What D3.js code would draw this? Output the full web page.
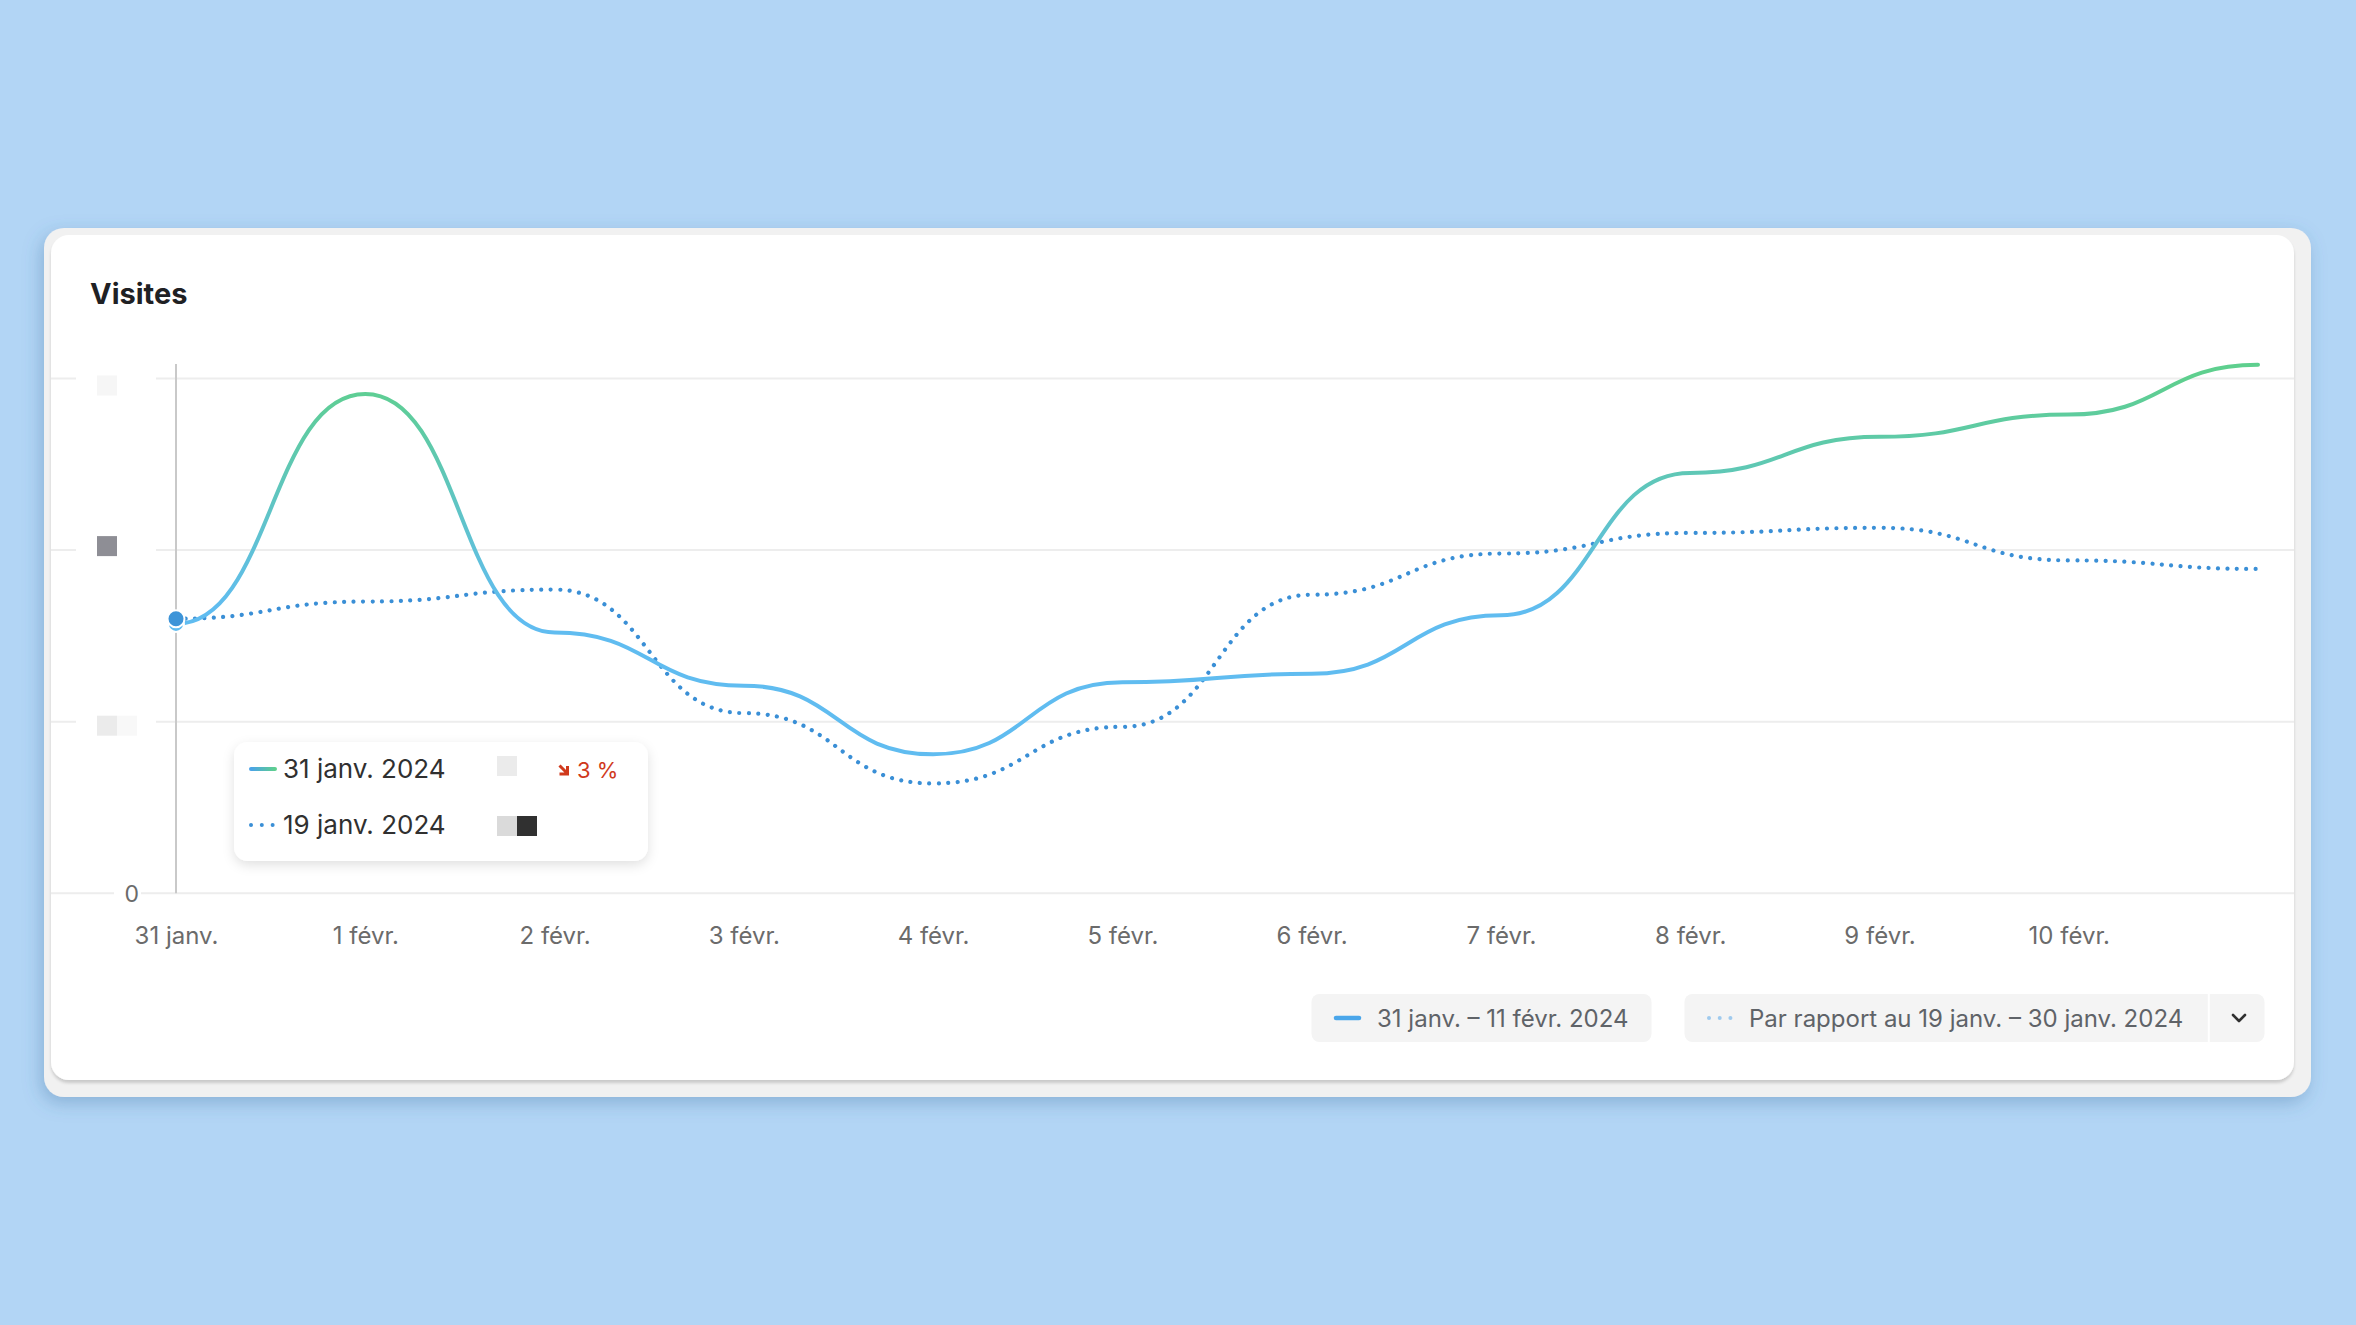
<!doctype html>
<html>
  <head>
    <meta charset="utf-8">
    <title>Visites</title>
    <script src="https://cdnjs.cloudflare.com/ajax/libs/d3/7.8.5/d3.min.js"></script>
    <style>
      html, body { margin: 0; padding: 0; background: #b2d5f5; overflow: hidden; }
      svg { display: block; font-family: Inter, "Noto Sans", sans-serif; }
    </style>
  </head>
  <body>
    <div id="chart"></div>

    <script>
      // data (y-axis labels are masked in the original)
      const days = ["31 janv.", "1 févr.", "2 févr.", "3 févr.", "4 févr.", "5 févr.",
                    "6 févr.", "7 févr.", "8 févr.", "9 févr.", "10 févr.", "11 févr."];
      const currentVisits = [157, 291, 152, 121, 81, 123, 128, 162, 245, 266, 279, 308];
      const previousVisits = [160, 170, 177, 105, 64, 97, 174, 198, 210, 213, 194, 189];
      const yTicks = [0, 100, 200, 300];
      const xTickLabels = days.slice(0, 11);

      const tooltipRows = [
        { label: "31 janv. 2024", change: "3 %" },
        { label: "19 janv. 2024", change: "" }
      ];
      const legendLabels = ["31 janv. – 11 févr. 2024", "Par rapport au 19 janv. – 30 janv. 2024"];

      const W = 2356, H = 1325;
      const blue = "#60bcf0", green = "#5ecf8e", dotBlue = "#3a8fd6";

      const svg = d3.select("#chart").append("svg")
        .attr("width", W).attr("height", H)
        .attr("viewBox", `0 0 ${W} ${H}`);

      const defs = svg.append("defs");

      const sh1 = defs.append("filter").attr("id", "outerShadow")
        .attr("x", "-5%").attr("y", "-5%").attr("width", "110%").attr("height", "115%");
      sh1.append("feDropShadow").attr("dx", -3).attr("dy", 6).attr("stdDeviation", 9)
        .attr("flood-color", "#3d6f9e").attr("flood-opacity", 0.35);

      const sh2 = defs.append("filter").attr("id", "innerShadow")
        .attr("x", "-5%").attr("y", "-5%").attr("width", "110%").attr("height", "115%");
      sh2.append("feDropShadow").attr("dx", 0).attr("dy", 3).attr("stdDeviation", 1.5)
        .attr("flood-color", "#000").attr("flood-opacity", 0.16);

      const sh3 = defs.append("filter").attr("id", "tipShadow")
        .attr("x", "-20%").attr("y", "-30%").attr("width", "140%").attr("height", "170%");
      sh3.append("feDropShadow").attr("dx", 0).attr("dy", 4).attr("stdDeviation", 6)
        .attr("flood-color", "#000").attr("flood-opacity", 0.12);

      // cards
      svg.append("rect")
        .attr("x", 44).attr("y", 228).attr("width", 2267).attr("height", 869)
        .attr("rx", 20).attr("fill", "#f1f1f1")
        .attr("filter", "url(#outerShadow)");
      svg.append("rect")
        .attr("x", 51).attr("y", 235).attr("width", 2243).attr("height", 845)
        .attr("rx", 18).attr("fill", "#fff")
        .attr("filter", "url(#innerShadow)");

      svg.append("text")
        .attr("x", 90).attr("y", 304)
        .attr("font-size", 29).attr("font-weight", 700).attr("fill", "#1f2124")
        .text("Visites");

      // scales
      const x = d3.scalePoint().domain(days).range([176, 2258]);
      const y = d3.scaleLinear().domain([0, 300]).range([893.3, 378.5]);

      // gridlines
      svg.append("g").selectAll("line")
        .data(yTicks)
        .join("line")
        .attr("x1", 51).attr("x2", 2294)
        .attr("y1", d => y(d)).attr("y2", d => y(d))
        .attr("stroke", "#ededed").attr("stroke-width", 2);

      // y labels (masked blocks in the source, except 0)
      const swatches = { 100: ["#ebebeb", "#f8f8f8"], 200: ["#8e8e95", "#ffffff"], 300: ["#f6f6f6", "#ffffff"] };
      const swatchShift = { 100: 4, 200: -4, 300: 7 };
      const yLab = svg.append("g").selectAll("g")
        .data(yTicks)
        .join("g")
        .attr("transform", d => `translate(0,${y(d)})`);
      yLab.filter(d => d !== 0).append("rect")
        .attr("x", 76).attr("y", -12).attr("width", 80).attr("height", 24).attr("fill", "#fff");
      yLab.filter(d => d !== 0).each(function(d) {
        d3.select(this).selectAll("rect.sw")
          .data(swatches[d])
          .join("rect").attr("class", "sw")
          .attr("x", (c, i) => 97 + i * 20).attr("y", -10 + swatchShift[d])
          .attr("width", 20).attr("height", 20).attr("fill", c => c);
      });
      yLab.filter(d => d === 0).append("rect")
        .attr("x", 114).attr("y", -6).attr("width", 27).attr("height", 12).attr("fill", "#fff");
      yLab.filter(d => d === 0).append("text")
        .attr("x", 139).attr("dy", "0.36em").attr("text-anchor", "end")
        .attr("font-size", 23).attr("fill", "#6b6b6b")
        .text(d => d);

      // crosshair
      svg.append("line")
        .attr("x1", x(days[0])).attr("x2", x(days[0]))
        .attr("y1", 364).attr("y2", y(0))
        .attr("stroke", "#c9c9c9").attr("stroke-width", 2);

      // x axis labels
      const xAxis = d3.axisBottom(x).tickValues(xTickLabels).tickSize(0).tickPadding(0);
      const gx = svg.append("g").attr("transform", "translate(0,927)").call(xAxis);
      gx.select(".domain").remove();
      gx.selectAll("text")
        .attr("font-family", "Inter, sans-serif")
        .attr("font-size", 24).attr("fill", "#6b6b6b");

      // gradient for current line
      const grad = defs.append("linearGradient").attr("id", "lineGrad")
        .attr("gradientUnits", "userSpaceOnUse")
        .attr("x1", 0).attr("x2", 0)
        .attr("y1", y(165)).attr("y2", y(300));
      grad.append("stop").attr("offset", "0%").attr("stop-color", blue);
      grad.append("stop").attr("offset", "100%").attr("stop-color", green);

      const hgrad = defs.append("linearGradient").attr("id", "swatchGrad")
        .attr("x1", 0).attr("x2", 1).attr("y1", 0).attr("y2", 0);
      hgrad.append("stop").attr("offset", "0%").attr("stop-color", "#4aa3e8");
      hgrad.append("stop").attr("offset", "100%").attr("stop-color", green);

      const line = d3.line()
        .x((d, i) => x(days[i]))
        .y(d => y(d))
        .curve(d3.curveBumpX);

      svg.append("path")
        .datum(previousVisits)
        .attr("d", line)
        .attr("fill", "none")
        .attr("stroke", dotBlue).attr("stroke-width", 4.2)
        .attr("stroke-linecap", "round")
        .attr("stroke-dasharray", "0.01 9.4");

      svg.append("path")
        .datum(currentVisits)
        .attr("d", line)
        .attr("fill", "none")
        .attr("stroke", "url(#lineGrad)").attr("stroke-width", 4)
        .attr("stroke-linecap", "round");

      // hovered points
      svg.append("circle")
        .attr("cx", x(days[0])).attr("cy", y(currentVisits[0]))
        .attr("r", 8).attr("fill", blue).attr("stroke", "#fff").attr("stroke-width", 2);
      svg.append("circle")
        .attr("cx", x(days[0])).attr("cy", y(previousVisits[0]))
        .attr("r", 8.5).attr("fill", "#3d94d8").attr("stroke", "#fff").attr("stroke-width", 2);

      // tooltip
      const tip = svg.append("g");
      tip.append("rect")
        .attr("x", 234).attr("y", 742).attr("width", 414).attr("height", 119)
        .attr("rx", 14).attr("fill", "#fff").attr("filter", "url(#tipShadow)");

      const rows = tip.selectAll("g.row")
        .data(tooltipRows)
        .join("g").attr("class", "row")
        .attr("transform", (d, i) => `translate(0,${769 + i * 56})`);

      rows.filter((d, i) => i === 0).append("line")
        .attr("x1", 251).attr("x2", 275).attr("y1", 0).attr("y2", 0.01)
        .attr("stroke", "url(#swatchGrad)").attr("stroke-width", 4).attr("stroke-linecap", "round");
      rows.filter((d, i) => i === 1).append("line")
        .attr("x1", 251).attr("x2", 274).attr("y1", 0).attr("y2", 0)
        .attr("stroke", dotBlue).attr("stroke-width", 4).attr("stroke-linecap", "round")
        .attr("stroke-dasharray", "0.01 10.8");

      rows.append("text")
        .attr("x", 283).attr("y", 9)
        .attr("font-size", 26).attr("fill", "#303030")
        .text(d => d.label);

      rows.filter((d, i) => i === 0).append("rect")
        .attr("x", 497).attr("y", -13).attr("width", 20).attr("height", 20).attr("fill", "#ebebeb");
      rows.filter((d, i) => i === 1).append("rect")
        .attr("x", 497).attr("y", -9).attr("width", 20).attr("height", 20).attr("fill", "#dadada");
      rows.filter((d, i) => i === 1).append("rect")
        .attr("x", 517).attr("y", -9).attr("width", 20).attr("height", 20).attr("fill", "#303030");

      const red = "#d0391c";
      rows.filter(d => d.change).append("path")
        .attr("d", "M559.5,-3.5 L567,4 M567.5,-3 L567.5,5 L559.5,5")
        .attr("fill", "none").attr("stroke", red).attr("stroke-width", 3);
      rows.filter(d => d.change).append("text")
        .attr("x", 577).attr("y", 9)
        .attr("font-size", 22).attr("fill", red)
        .text(d => d.change);

      // bottom legend buttons
      const leg = svg.append("g").attr("font-size", 24).attr("fill", "#5f6368");
      leg.append("rect").attr("x", 1311.5).attr("y", 994).attr("width", 340).attr("height", 48)
        .attr("rx", 8).attr("fill", "#f4f4f4");
      leg.append("line").attr("x1", 1336).attr("x2", 1359).attr("y1", 1018).attr("y2", 1018)
        .attr("stroke", "#4aa6ea").attr("stroke-width", 4.5).attr("stroke-linecap", "round");
      leg.append("text").attr("x", 1377).attr("y", 1026.5).text(legendLabels[0]);

      leg.append("rect").attr("x", 1684.5).attr("y", 994).attr("width", 580).attr("height", 48)
        .attr("rx", 8).attr("fill", "#f4f4f4");
      leg.append("line").attr("x1", 2208.8).attr("x2", 2208.8).attr("y1", 994).attr("y2", 1042)
        .attr("stroke", "#fff").attr("stroke-width", 2);
      leg.append("line").attr("x1", 1709).attr("x2", 1731).attr("y1", 1018).attr("y2", 1018)
        .attr("stroke", "#9fcaee").attr("stroke-width", 4).attr("stroke-linecap", "round")
        .attr("stroke-dasharray", "0.01 10.7");
      leg.append("text").attr("x", 1749).attr("y", 1026.5).text(legendLabels[1]);
      leg.append("path").attr("d", "M2233,1015 L2239,1021 L2245,1015")
        .attr("fill", "none").attr("stroke", "#303030").attr("stroke-width", 2.6)
        .attr("stroke-linecap", "round").attr("stroke-linejoin", "round");
    </script>
  </body>
</html>
